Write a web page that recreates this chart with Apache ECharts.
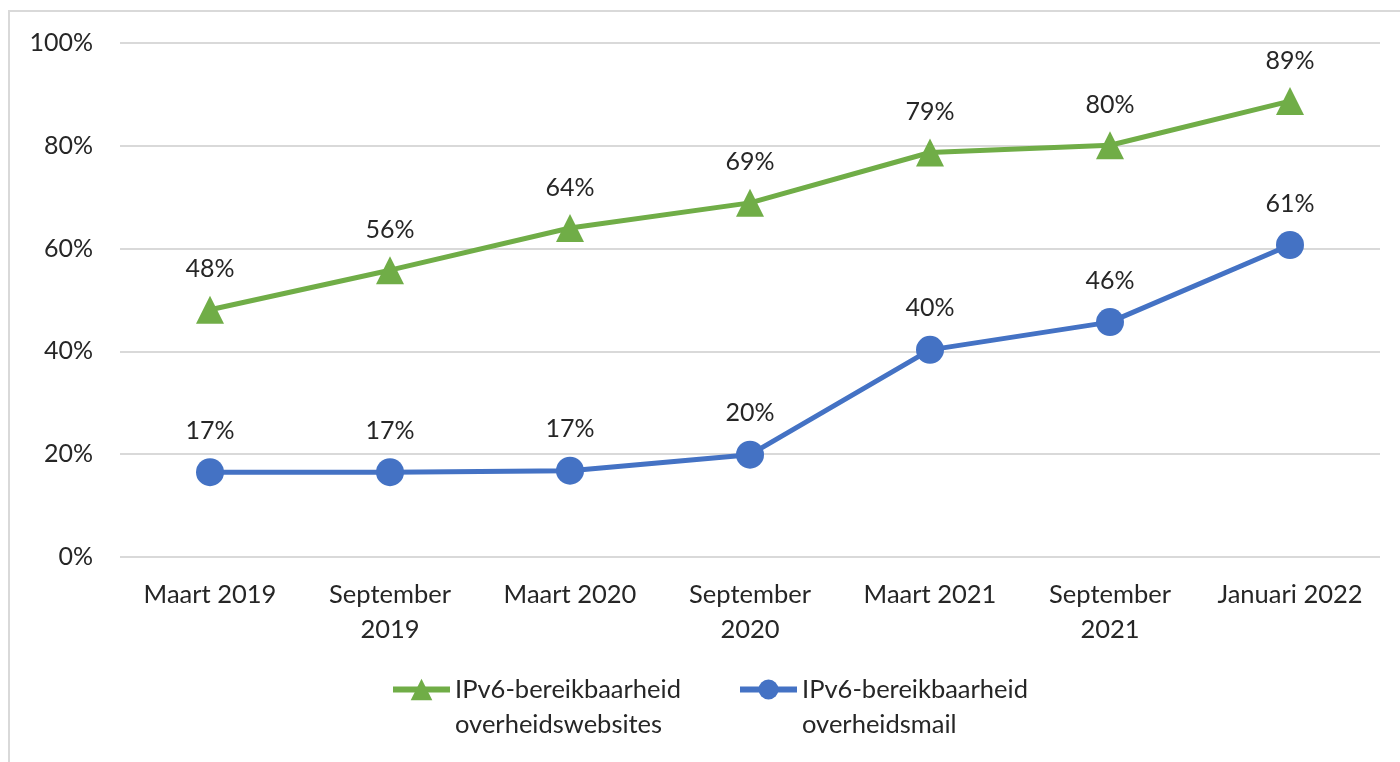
<!DOCTYPE html>
<html>
<head>
<meta charset="utf-8">
<script src="https://cdn.jsdelivr.net/npm/echarts@6/dist/echarts.min.js"></script>
<style>
html,body{margin:0;padding:0;background:#fff;}
#chart{width:1400px;height:762px;}
</style>
</head>
<body>
<div id="chart"></div>
<script>
var categories = ['Maart 2019', 'September\n2019', 'Maart 2020', 'September\n2020', 'Maart 2021', 'September\n2021', 'Januari 2022'];
var websites = [48.1, 55.8, 64.0, 68.9, 78.7, 80.1, 88.7];
var mail = [16.5, 16.5, 16.8, 19.9, 40.3, 45.7, 60.7];
var yTicks = { min: 0, max: 100, interval: 20 };
var nameWebsites = 'IPv6-bereikbaarheid\noverheidswebsites';
var nameMail = 'IPv6-bereikbaarheid\noverheidsmail';

var FONT = 'Lato';
var TXT = '#262626';
var chart = echarts.init(document.getElementById('chart'));
function pct(p){ return Math.round(p.value) + '%'; }
var legendText = { fontFamily: FONT, fontSize: 25.5, color: TXT, lineHeight: 35 };
function legendFmt(n){ return ' \n' + n; }
chart.setOption({
  animation: false,
  backgroundColor: '#fff',
  graphic: [{
    type: 'rect', shape: { x: 9, y: 11, width: 1600, height: 1000 },
    style: { fill: 'none', stroke: '#d9d9d9', lineWidth: 2 }, silent: true, z: -1
  }],
  grid: { left: 120, right: 20, top: 43, bottom: 205 },
  legend: [{
    data: [{ name: nameWebsites, lineStyle: { width: 6, color: '#70AD47' } }],
    left: 390, top: 637, padding: 0, formatter: legendFmt,
    itemWidth: 57, itemHeight: 27, textStyle: legendText, selectedMode: false,
    lineStyle: { width: 6 }
  }, {
    data: [{ name: nameMail, lineStyle: { width: 6, color: '#4472C4' } }],
    left: 737, top: 637, padding: 0, formatter: legendFmt,
    itemWidth: 57, itemHeight: 25, textStyle: legendText, selectedMode: false,
    lineStyle: { width: 6 }
  }],
  xAxis: {
    type: 'category', data: categories, boundaryGap: true,
    axisLine: { show: false }, axisTick: { show: false },
    axisLabel: { fontFamily: FONT, fontSize: 25.5, color: TXT, lineHeight: 35, margin: 20, interval: 0 }
  },
  yAxis: {
    type: 'value', min: yTicks.min, max: yTicks.max, interval: yTicks.interval,
    axisLine: { show: false }, axisTick: { show: false },
    splitLine: { lineStyle: { color: '#d9d9d9', width: 2 } },
    axisLabel: { fontFamily: FONT, fontSize: 25, color: TXT, margin: 27, formatter: '{value}%' }
  },
  series: [{
    name: nameWebsites, type: 'line', data: websites,
    symbol: 'triangle', symbolSize: 28,
    lineStyle: { color: '#70AD47', width: 5 },
    itemStyle: { color: '#70AD47' },
    label: { show: true, position: 'top', distance: 14, formatter: pct, fontFamily: FONT, fontSize: 25, color: TXT }
  }, {
    name: nameMail, type: 'line', data: mail,
    symbol: 'circle', symbolSize: 28,
    lineStyle: { color: '#4472C4', width: 5 },
    itemStyle: { color: '#4472C4' },
    label: { show: true, position: 'top', distance: 15, formatter: pct, fontFamily: FONT, fontSize: 25, color: TXT }
  }]
});
</script>
</body>
</html>
